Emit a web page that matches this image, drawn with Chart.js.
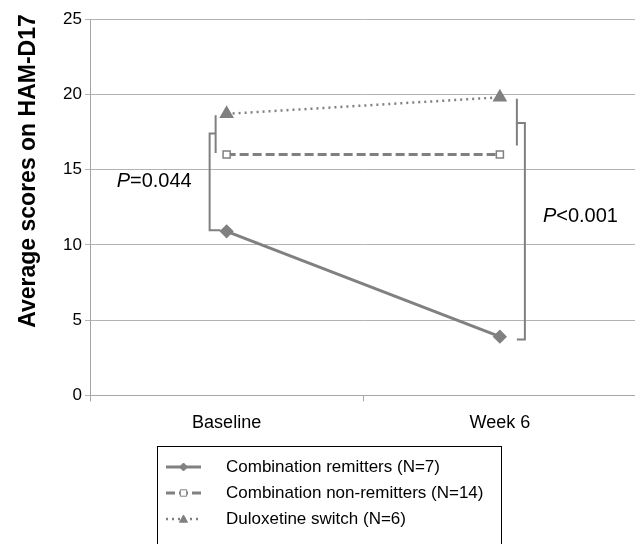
<!DOCTYPE html>
<html>
<head>
<meta charset="utf-8">
<script src="https://cdn.jsdelivr.net/npm/chart.js@4"></script>
<style>
  html, body { margin: 0; padding: 0; background: #fff; overflow: hidden; }
  #wrap { width: 645px; height: 544px; }
</style>
</head>
<body>
<div id="wrap"><canvas id="chart" width="645" height="544"></canvas></div>
<script>
const categories = ['Baseline', 'Week 6']
const seriesNames = ['Combination remitters (N=7)', 'Combination non-remitters (N=14)', 'Duloxetine switch (N=6)']
const remitters = [10.9, 3.9]
const nonRemitters = [16.0, 16.0]
const duloxetine = [18.7, 19.8]
const yTicks = [0, 5, 10, 15, 20, 25]
const yTitle = 'Average scores on HAM-D17'

// significance brackets: category index, y values for short bar, joint, long end
const brackets = [
  { cat: 0, side: -1, shortFrom: 18.6, shortTo: 16.1, joint: 17.4, end: 10.97 },
  { cat: 1, side: 1, shortFrom: 19.7, shortTo: 16.6, joint: 18.1, end: 3.72 }
]
const pLabels = [
  { cat: 0, y: 14.2, italic: 'P', rest: '=0.044', dx: -110 },
  { cat: 1, y: 11.9, italic: 'P', rest: '<0.001', dx: 43 }
]

const GREY = '#808080'
const FONT = "'Liberation Sans', Arial, sans-serif"

const extras = {
  id: 'extras',
  afterDraw(chart) {
    const ctx = chart.ctx
    const x = chart.scales.x, y = chart.scales.y
    ctx.save()

    // y title
    ctx.save()
    ctx.translate(29, 171)
    ctx.rotate(-Math.PI / 2)
    ctx.fillStyle = '#000'
    ctx.font = 'bold 23px ' + FONT
    ctx.textAlign = 'center'
    ctx.textBaseline = 'middle'
    ctx.fillText(yTitle, 0, 0)
    ctx.restore()

    ctx.strokeStyle = GREY
    ctx.lineWidth = 2
    brackets.forEach(b => {
      const cx = x.getPixelForValue(b.cat)
      const sx = cx + b.side * (b.side < 0 ? 11 : 17)
      const lx = cx + b.side * (b.side < 0 ? 17 : 25)
      const ex = b.side < 0 ? cx - 6 : cx + 17
      ctx.beginPath()
      ctx.moveTo(sx, y.getPixelForValue(b.shortFrom))
      ctx.lineTo(sx, y.getPixelForValue(b.shortTo))
      ctx.moveTo(sx, y.getPixelForValue(b.joint))
      ctx.lineTo(lx, y.getPixelForValue(b.joint))
      ctx.lineTo(lx, y.getPixelForValue(b.end))
      ctx.lineTo(ex, y.getPixelForValue(b.end))
      ctx.stroke()
    })

    ctx.fillStyle = '#000'
    ctx.textBaseline = 'middle'
    pLabels.forEach(p => {
      const px = x.getPixelForValue(p.cat) + p.dx
      const py = y.getPixelForValue(p.y)
      ctx.font = 'italic 20px ' + FONT
      ctx.fillText(p.italic, px, py)
      const w = ctx.measureText(p.italic).width
      ctx.font = '20px ' + FONT
      ctx.fillText(p.rest, px + w, py)
    })

    // legend box
    const lx = 157, ly = 446, lw = 344, lh = 110
    ctx.strokeStyle = '#000'
    ctx.lineWidth = 1
    ctx.strokeRect(lx + 0.5, ly + 0.5, lw, lh)
    chart.data.datasets.forEach((ds, i) => {
      const ry = 467 + i * 26
      ctx.strokeStyle = GREY
      ctx.lineWidth = ds.borderWidth
      ctx.setLineDash(ds.borderDash || [])
      ctx.beginPath()
      ctx.moveTo(166, ry)
      ctx.lineTo(201, ry)
      ctx.stroke()
      ctx.setLineDash([])
      drawMarker(ctx, ds.pointStyle, 183.5, ry, 4, ds.pointBackgroundColor)
      ctx.fillStyle = '#000'
      ctx.font = '17px ' + FONT
      ctx.fillText(ds.label, 226, ry)
    })
    ctx.restore()
  }
}

function drawMarker(ctx, style, cx, cy, r, fill) {
  ctx.save()
  ctx.fillStyle = fill
  ctx.strokeStyle = GREY
  ctx.lineWidth = 1
  ctx.beginPath()
  if (style === 'rectRot') {
    ctx.moveTo(cx, cy - r); ctx.lineTo(cx + r, cy); ctx.lineTo(cx, cy + r); ctx.lineTo(cx - r, cy)
  } else if (style === 'rect') {
    ctx.rect(cx - r * 0.8, cy - r * 0.8, r * 1.6, r * 1.6)
  } else {
    ctx.moveTo(cx, cy - r); ctx.lineTo(cx + r, cy + r * 0.8); ctx.lineTo(cx - r, cy + r * 0.8)
  }
  ctx.closePath()
  ctx.fill()
  ctx.stroke()
  ctx.restore()
}

new Chart(document.getElementById('chart'), {
  type: 'line',
  data: {
    labels: categories,
    datasets: [
      { label: seriesNames[0], data: remitters, borderColor: GREY, borderWidth: 3,
        pointStyle: 'rectRot', pointRadius: 5, pointBackgroundColor: GREY, pointBorderColor: GREY },
      { label: seriesNames[1], data: nonRemitters, borderColor: GREY, borderWidth: 3, borderDash: [9, 4],
        pointStyle: 'rect', pointRadius: 5, pointBackgroundColor: '#fff', pointBorderColor: GREY, pointBorderWidth: 1.5 },
      { label: seriesNames[2], data: duloxetine, borderColor: GREY, borderWidth: 2.5, borderDash: [2, 4],
        pointStyle: 'triangle', pointRadius: 6, pointBackgroundColor: GREY, pointBorderColor: GREY }
    ]
  },
  options: {
    responsive: false,
    animation: false,
    layout: { padding: { top: 19, right: 5, bottom: 99, left: 0 } },
    plugins: { legend: { display: false }, tooltip: { enabled: false } },
    scales: {
      x: {
        offset: true,
        grid: { offset: true, drawOnChartArea: false, tickLength: 6, color: '#a6a6a6' },
        border: { color: '#a6a6a6' },
        ticks: { color: '#000', font: { family: FONT, size: 18 }, padding: 11 }
      },
      y: {
        min: 0, max: 25,
        afterBuildTicks: s => { s.ticks = yTicks.map(v => ({ value: v })) },
        afterFit: s => { s.width = 90 },
        grid: { color: '#b3b3b3', tickLength: 5 },
        border: { color: '#a6a6a6' },
        ticks: { color: '#000', font: { family: FONT, size: 17 }, padding: 3 }
      }
    }
  },
  plugins: [extras]
})
</script>
</body>
</html>
